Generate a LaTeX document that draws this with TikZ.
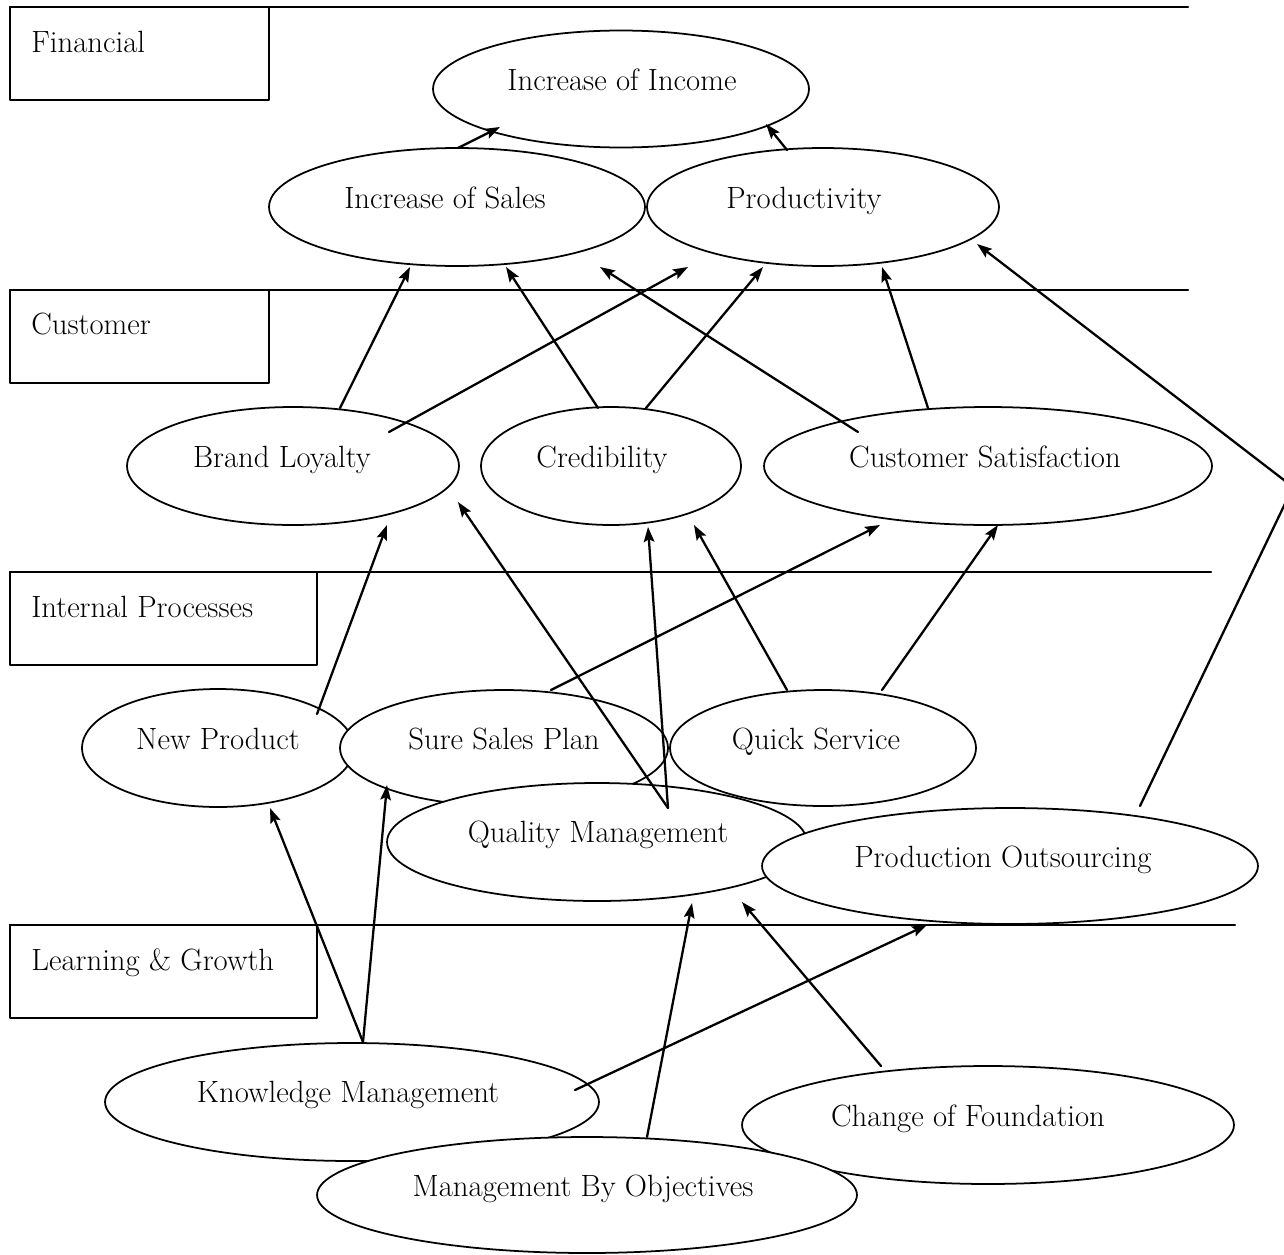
\documentclass[tikz,border=0pt]{standalone}
\usepackage{tikz}
\usetikzlibrary{shapes,arrows.meta}
\usetikzlibrary{calc}

\begin{document}
\begin{tikzpicture}[line cap=round,line join=round,x=0.02cm,y=-0.02cm,
		goal/.style={ellipse,draw,fill=white,line width=1pt,inner sep=0pt,minimum height=2.36cm},
		every label/.style={font=\fontsize{17.5}{21}\selectfont,inner sep=0pt,text height=0pt,text depth=0pt},
		lane/.style={font=\fontsize{17.5}{21}\selectfont,anchor=base west,inner sep=0pt},
		flow/.style={-{Stealth[length=8.5pt,width=6pt,inset=1.5pt]},line width=1.3pt}]
			\clip (0,0) rectangle (1284,1254);
			% perspectives
			\draw[line width=1.2pt] (10,7) -- (1188,7);
			\draw[line width=1.2pt] (10,290) -- (1188,290);
			\draw[line width=1.2pt] (10,572) -- (1211,572);
			\draw[line width=1.2pt] (10,925) -- (1235,925);
			\draw[line width=1pt] (10,7) rectangle (269,100);
			\draw[line width=1pt] (10,290) rectangle (269,383);
			\draw[line width=1pt] (10,572) rectangle (317,665);
			\draw[line width=1pt] (10,925) rectangle (317,1018);
			\node[lane] (fin) at (31,52) {Financial};
			\node[lane] (cus) at (31,334) {Customer};
			\node[lane] (ipr) at (31,617) {Internal Processes};
			\node[lane] (lng) at (31,970) {Learning \& Growth};
			% goals
			\node[goal,minimum width=7.52cm,minimum height=2.34cm,label={[shift={(1,1)}]center:Increase of Income}] (inc) at (621,89) {};
			\node[goal,minimum width=7.52cm,label={[shift={(-12,1)}]center:Increase of Sales}] (sales) at (457,207) {};
			\node[goal,minimum width=7.04cm,label={[shift={(-19,1)}]center:Productivity}] (prod) at (823,207) {};
			\node[goal,minimum width=6.64cm,label={[shift={(-11,1)}]center:Brand Loyalty}] (brand) at (293,466) {};
			\node[goal,minimum width=5.2cm,label={[shift={(-9,1)}]center:Credibility}] (cred) at (611,466) {};
			\node[goal,minimum width=8.96cm,label={[shift={(-3,1)}]center:Customer Satisfaction}] (csat) at (988,466) {};
			\node[goal,minimum width=5.44cm,label={[shift={(0,1)}]center:New Product}] (newp) at (218,748) {};
			\node[goal,minimum width=6.56cm,minimum height=2.32cm,label={[shift={(0,1)}]center:Sure Sales Plan}] (ssp) at (504,748) {};
			\node[goal,minimum width=6.12cm,minimum height=2.32cm,label={[shift={(-7,1)}]center:Quick Service}] (quick) at (823,748) {};
			\node[goal,minimum width=8.4cm,label={[shift={(1,0)}]center:Quality Management}] (qm) at (597,842) {};
			\node[goal,minimum width=9.92cm,minimum height=2.32cm,label={[shift={(-7,1)}]center:Production Outsourcing}] (outs) at (1010,866) {};
			\node[goal,minimum width=9.84cm,label={[shift={(-20,1)}]center:Change of Foundation}] (found) at (988,1125) {};
			\node[goal,minimum width=9.88cm,label={[shift={(-4,0)}]center:Knowledge Management}] (know) at (352,1102) {};
			\node[goal,minimum width=10.8cm,minimum height=2.32cm,label={[shift={(-4,1)}]center:Management By Objectives}] (mbo) at (587,1195) {};
			\coordinate (bend) at (1293,487);
			% links
			\draw[flow] ($(sales)+(1,-59)$) -- ($(inc)+(-121,38)$);
			\draw[flow] ($(prod)+(-36,-57)$) -- ($(inc)+(145,35)$);
			\draw[flow] ($(brand)+(47,-58)$) -- ($(sales)+(-47,60)$);
			\draw[flow] ($(brand)+(96,-34)$) -- ($(prod)+(-135,60)$);
			\draw[flow] ($(cred)+(-13,-58)$) -- ($(sales)+(49,60)$);
			\draw[flow] ($(cred)+(35,-58)$) -- ($(prod)+(-60,60)$);
			\draw[flow] ($(csat)+(-130,-34)$) -- ($(sales)+(143,60)$);
			\draw[flow] ($(csat)+(-60,-58)$) -- ($(prod)+(59,60)$);
			\draw[flow] ($(outs)+(130,-60)$) -- (bend) -- ($(prod)+(154,37)$);
			\draw[flow] ($(newp)+(99,-34)$) -- ($(brand)+(94,59)$);
			\draw[flow] ($(ssp)+(47,-58)$) -- ($(csat)+(-108,59)$);
			\draw[flow] ($(qm)+(71,-34)$) -- ($(brand)+(165,36)$);
			\draw[flow] ($(qm)+(71,-34)$) -- ($(cred)+(37,61)$);
			\draw[flow] ($(quick)+(-36,-58)$) -- ($(cred)+(83,59)$);
			\draw[flow] ($(quick)+(59,-58)$) -- ($(csat)+(10,59)$);
			\draw[flow] ($(know)+(11,-60)$) -- ($(newp)+(52,60)$);
			\draw[flow] ($(know)+(11,-60)$) -- ($(ssp)+(-117,37)$);
			\draw[flow] ($(know)+(223,-12)$) -- ($(outs)+(-83,59)$);
			\draw[flow] ($(mbo)+(60,-58)$) -- ($(qm)+(95,61)$);
			\draw[flow] ($(found)+(-107,-59)$) -- ($(qm)+(145,60)$);
		\end{tikzpicture}
\end{document}
